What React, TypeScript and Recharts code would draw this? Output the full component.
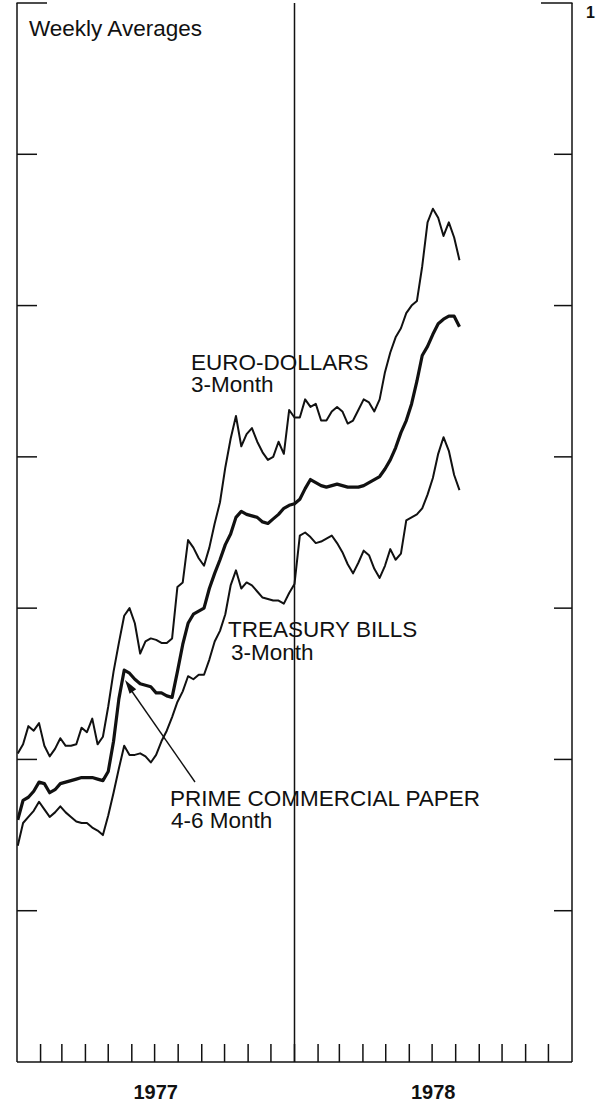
import { LineChart, Line, XAxis, YAxis, ReferenceLine } from 'recharts';

const FONT = '"Liberation Sans", Arial, Helvetica, sans-serif';
const INK = '#111';

// weekly averages, Jan 1977 - early Aug 1978 (day counted from Jan 1, 1977)
const weekDays = Array.from({ length: 84 }, (_, i) => 1 + 7 * i);

const euroDollars = [
  5.04, 5.10, 5.22, 5.19, 5.24, 5.09, 5.02, 5.07, 5.14, 5.09,
  5.09, 5.10, 5.21, 5.18, 5.27, 5.10, 5.15, 5.35, 5.58, 5.77,
  5.95, 6.00, 5.90, 5.70, 5.78, 5.80, 5.79, 5.77, 5.77, 5.80,
  6.14, 6.17, 6.45, 6.40, 6.33, 6.28, 6.40, 6.56, 6.70, 6.93,
  7.12, 7.27, 7.07, 7.15, 7.19, 7.10, 7.03, 6.98, 7.00, 7.10,
  7.02, 7.31, 7.26, 7.26, 7.38, 7.33, 7.35, 7.24, 7.24, 7.30,
  7.33, 7.30, 7.22, 7.24, 7.31, 7.38, 7.36, 7.30, 7.38, 7.56,
  7.69, 7.79, 7.85, 7.95, 8.00, 8.03, 8.26, 8.55, 8.64, 8.58,
  8.46, 8.55, 8.45, 8.30,
];

const commercialPaper = [
  4.60, 4.73, 4.75, 4.79, 4.85, 4.84, 4.78, 4.80, 4.84, 4.85,
  4.86, 4.87, 4.88, 4.88, 4.88, 4.87, 4.86, 4.92, 5.12, 5.40,
  5.59, 5.57, 5.53, 5.50, 5.49, 5.48, 5.44, 5.44, 5.42, 5.41,
  5.58, 5.76, 5.90, 5.96, 5.98, 6.00, 6.13, 6.23, 6.32, 6.42,
  6.49, 6.60, 6.64, 6.62, 6.61, 6.60, 6.57, 6.56, 6.59, 6.62,
  6.66, 6.68, 6.69, 6.72, 6.79, 6.85, 6.83, 6.81, 6.80, 6.81,
  6.82, 6.81, 6.80, 6.80, 6.80, 6.81, 6.83, 6.85, 6.87, 6.92,
  6.98, 7.06, 7.16, 7.24, 7.35, 7.50, 7.67, 7.73, 7.81, 7.88,
  7.91, 7.93, 7.93, 7.86,
];

const treasuryBills = [
  4.43, 4.58, 4.62, 4.66, 4.72, 4.67, 4.62, 4.65, 4.69, 4.65,
  4.62, 4.59, 4.58, 4.58, 4.55, 4.53, 4.50, 4.63, 4.78, 4.94,
  5.09, 5.03, 5.03, 5.04, 5.02, 4.98, 5.03, 5.12, 5.19, 5.28,
  5.38, 5.45, 5.55, 5.53, 5.56, 5.56, 5.66, 5.78, 5.85, 5.96,
  6.15, 6.25, 6.13, 6.17, 6.15, 6.11, 6.07, 6.06, 6.05, 6.05,
  6.03, 6.10, 6.16, 6.48, 6.50, 6.47, 6.43, 6.44, 6.46, 6.48,
  6.43, 6.37, 6.29, 6.23, 6.30, 6.38, 6.35, 6.26, 6.20, 6.28,
  6.39, 6.32, 6.36, 6.58, 6.60, 6.62, 6.66, 6.75, 6.86, 7.02,
  7.13, 7.04, 6.88, 6.78,
];

const monthStarts = [31, 59, 90, 120, 151, 181, 212, 243, 273, 304, 334, 365,
  396, 424, 455, 485, 516, 546, 577, 608, 638, 669, 699];
const yearMidpoints = [182.5, 547.5];
const yearLabels = ['1977', '1978'];
const rateTicks = [4, 5, 6, 7, 8, 9];

const data = weekDays.map((day, i) => ({
  day,
  euro: euroDollars[i],
  cp: commercialPaper[i],
  tb: treasuryBills[i],
}));

const noLabel = () => <g />;

const labelStyle = { fontFamily: FONT, fontSize: 22.5, fill: INK };

export default function App() {
  return (
    <div style={{ position: 'absolute', left: 0, top: 0, width: 602, height: 1106, background: '#fff' }}>
      <LineChart width={602} height={1106} data={data} margin={{ top: 3, right: 0, bottom: 0, left: 0 }}>
        <XAxis
          dataKey="day"
          type="number"
          domain={[0, 730]}
          ticks={monthStarts}
          interval={0}
          tickSize={-18}
          tick={noLabel}
          height={23}
          stroke={INK}
          strokeWidth={1.5}
          allowDataOverflow
        />
        <XAxis
          xAxisId="yr"
          dataKey="day"
          type="number"
          domain={[0, 730]}
          ticks={yearMidpoints}
          interval={0}
          tickFormatter={(v: number) => yearLabels[yearMidpoints.indexOf(v)] ?? ''}
          axisLine={false}
          tickLine={false}
          tickSize={0}
          tickMargin={0}
          height={21}
          stroke={INK}
          tick={{ fontFamily: FONT, fontSize: 20, fontWeight: 'bold', fill: INK }}
        />
        <YAxis
          type="number"
          domain={[3, 10]}
          ticks={rateTicks}
          interval={0}
          width={17}
          tickSize={-20}
          tick={noLabel}
          stroke={INK}
          strokeWidth={1.5}
          allowDataOverflow
        />
        <YAxis
          yAxisId="right"
          orientation="right"
          type="number"
          domain={[3, 10]}
          ticks={rateTicks}
          interval={0}
          width={30}
          tickSize={-18}
          tick={noLabel}
          stroke={INK}
          strokeWidth={1.5}
          allowDataOverflow
        />
        <ReferenceLine x={365} stroke={INK} strokeWidth={1.5} />
        <Line type="linear" dataKey="euro" stroke={INK} strokeWidth={2} dot={false} strokeLinejoin="round" isAnimationActive={false} />
        <Line type="linear" dataKey="cp" stroke={INK} strokeWidth={3.2} dot={false} strokeLinejoin="round" isAnimationActive={false} />
        <Line type="linear" dataKey="tb" stroke={INK} strokeWidth={2} dot={false} strokeLinejoin="round" isAnimationActive={false} />
      </LineChart>

      <svg width={602} height={1106} style={{ position: 'absolute', left: 0, top: 0, pointerEvents: 'none' }}>
        {/* top corners of the frame */}
        <line x1={16.5} y1={3} x2={47} y2={3} stroke={INK} strokeWidth={1.5} />
        <line x1={541} y1={3} x2={572.5} y2={3} stroke={INK} strokeWidth={1.5} />
        <text x={586} y={18} style={{ fontFamily: FONT, fontSize: 16, fontWeight: 'bold', fill: INK }}>1</text>

        <text x={29} y={36} style={labelStyle}>Weekly Averages</text>

        <text x={191} y={370} style={labelStyle}>EURO-DOLLARS</text>
        <text x={191} y={392} style={labelStyle}>3-Month</text>

        <text x={228} y={637} style={labelStyle}>TREASURY BILLS</text>
        <text x={231} y={660} style={labelStyle}>3-Month</text>

        <text x={170} y={806} style={labelStyle}>PRIME COMMERCIAL PAPER</text>
        <text x={171} y={828} style={labelStyle}>4-6 Month</text>

        <line x1={195} y1={782} x2={131} y2={690} stroke={INK} strokeWidth={1.4} />
        <polygon points="125,680 136.2,689.2 129.6,693.8" fill={INK} />
      </svg>
    </div>
  );
}
